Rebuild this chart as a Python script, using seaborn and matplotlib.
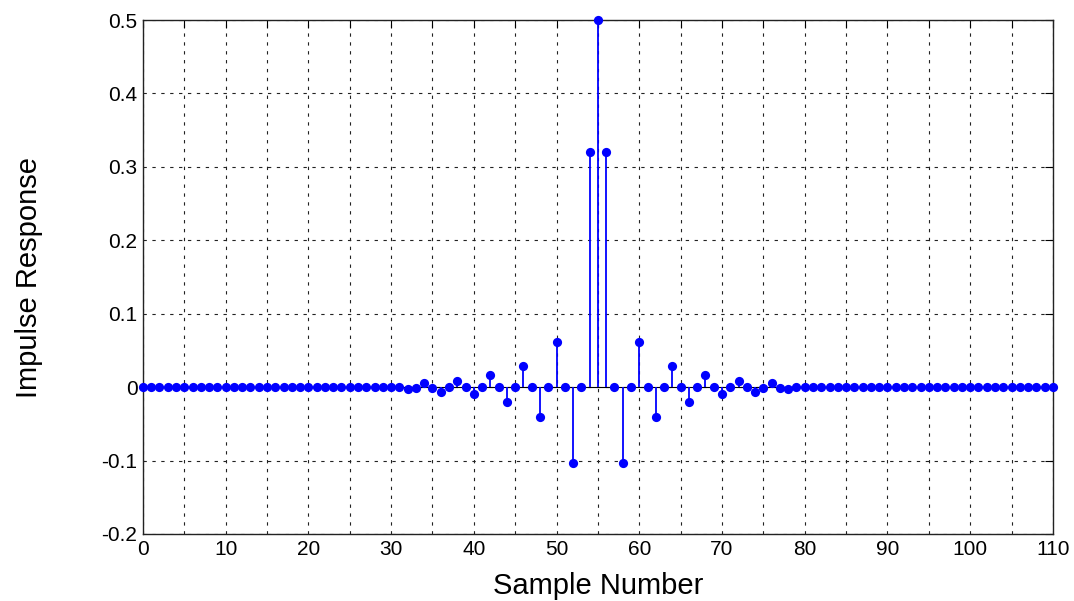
#python 3 script to redraw the impulse response stem chart
import numpy as np
import pandas as pd
import seaborn as sns
import matplotlib.pyplot as plt

# samples 0..110, nonzero taps only around the centre (symmetric filter)
samples = list(range(0, 111))
centre_idx = [32, 33, 34, 35, 36, 37, 38, 39, 40, 41, 42, 43, 44, 45, 46, 47, 48, 49, 50, 51, 52, 53, 54,
              55,
              56, 57, 58, 59, 60, 61, 62, 63, 64, 65, 66, 67, 68, 69, 70, 71, 72, 73, 74, 75, 76, 77, 78]
centre_vals = [-0.003, -0.001, 0.005, -0.0015, -0.0064, 0.0, 0.009, 0.0, -0.010, 0.0, 0.016, 0.0, -0.020,
               0.0, 0.029, 0.0, -0.040, 0.0, 0.061, 0.0, -0.103, 0.0, 0.320,
               0.500,
               0.320, 0.0, -0.103, 0.0, 0.061, 0.0, -0.040, 0.0, 0.029, 0.0, -0.020, 0.0, 0.016, 0.0,
               -0.010, 0.0, 0.009, 0.0, -0.0064, -0.0015, 0.005, -0.001, -0.003]

response = [0.0] * len(samples)
for i, v in zip(centre_idx, centre_vals):
    response[i] = v

df = pd.DataFrame({"sample": samples, "response": response})

sns.set_style("white")
plt.rcParams['font.family'] = ['Liberation Sans', 'DejaVu Sans']

fig = plt.figure(figsize=(10.74, 6.01), dpi=100)
ax = fig.add_axes([0.1331, 0.1115, 0.8473, 0.8552])

blue = "#0000ff"
ax.axhline(0, color="black", linewidth=0.8, zorder=2)
ax.vlines(df["sample"], 0, df["response"], color=blue, linewidth=1.3, zorder=3)
sns.scatterplot(data=df, x="sample", y="response", color=blue, s=44, edgecolor=blue,
                linewidth=0, ax=ax, zorder=4, clip_on=False)

ax.set_xlim(0, 110)
ax.set_ylim(-0.2, 0.5)
ax.set_xticks(np.arange(0, 111, 5))
ax.set_xticklabels([str(t) if t % 10 == 0 else "" for t in range(0, 111, 5)])
ax.set_yticks(np.arange(-0.2, 0.51, 0.1))
ax.set_yticklabels(["-0.2", "-0.1", "0", "0.1", "0.2", "0.3", "0.4", "0.5"])

ax.grid(True, color="#222222", linestyle=(0, (3, 5)), linewidth=0.8)
ax.tick_params(direction="in", length=6, width=0.8, top=True, right=True,
               labelsize=15, pad=4, colors="black")
for s in ax.spines.values():
    s.set_color("#222222")
    s.set_linewidth(1.0)

ax.set_xlabel("Sample Number", fontsize=21, labelpad=10, color="black")
ax.set_ylabel("Impulse Response", fontsize=21, labelpad=42, color="black")

plt.savefig("out.png", dpi=100)
